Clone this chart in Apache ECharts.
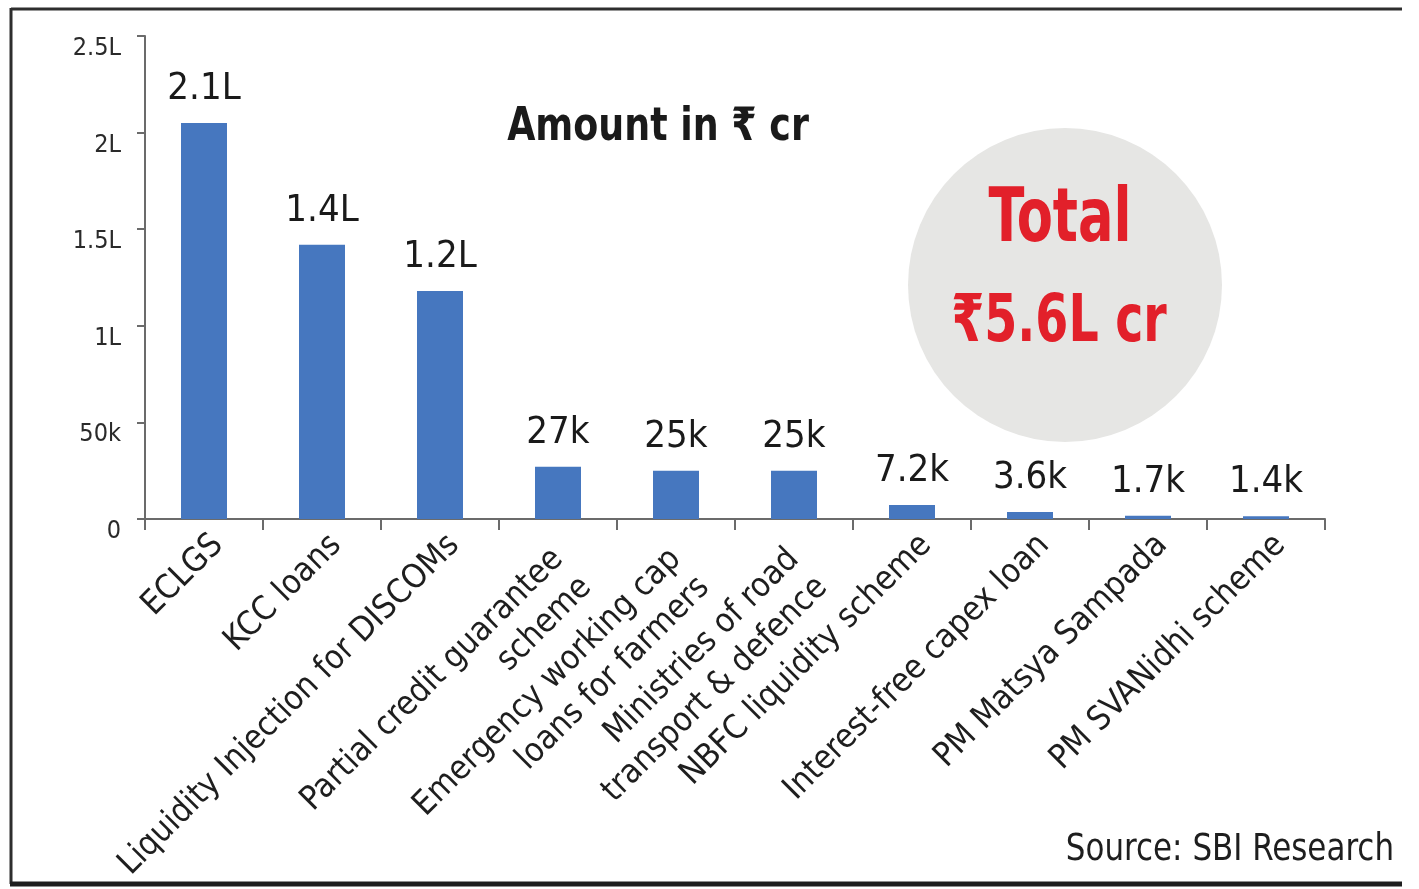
<!DOCTYPE html>
<html>
<head>
<meta charset="utf-8">
<script src="https://cdn.jsdelivr.net/npm/echarts@6/dist/echarts.min.js"></script>
<style>
html,body{margin:0;padding:0;background:#fff;}
#chart{width:1419px;height:889px;}
</style>
</head>
<body>
<div id="chart"></div>
<script>
const categories = [
  'ECLGS',
  'KCC loans',
  'Liquidity Injection for DISCOMs',
  'Partial credit guarantee\nscheme',
  'Emergency working cap\nloans for farmers',
  'Ministries of road\ntransport & defence',
  'NBFC liquidity scheme',
  'Interest-free capex loan',
  'PM Matsya Sampada',
  'PM SVANidhi scheme'
];
const amounts = [205000, 142000, 118000, 27000, 25000, 25000, 7200, 3600, 1700, 1400];
const amountLabels = ['2.1L', '1.4L', '1.2L', '27k', '25k', '25k', '7.2k', '3.6k', '1.7k', '1.4k'];
const yTickValues = [0, 50000, 100000, 150000, 200000, 250000];
const yTickLabels = ['0', '50k', '1L', '1.5L', '2L', '2.5L'];
const titleText = 'Amount in \u20B9 cr';
const totalLine1 = 'Total';
const totalLine2 = '\u20B95.6L cr';
const sourceText = 'Source: SBI Research';

const NARROW = "'DejaVu Sans Condensed', 'Liberation Sans Narrow', sans-serif";

const chart = echarts.init(document.getElementById('chart'), null, {renderer: 'canvas'});
chart.setOption({
  backgroundColor: '#ffffff',
  animation: false,
  grid: {left: 145, right: 94, top: 36, bottom: 370, containLabel: false, outerBoundsMode: 'none'},
  xAxis: {
    type: 'category',
    data: categories,
    boundaryGap: true,
    axisLine: {show: true, lineStyle: {color: '#6b6b6b', width: 2}},
    axisTick: {show: true, length: 11, alignWithLabel: false, lineStyle: {color: '#6b6b6b', width: 2}},
    axisLabel: {
      interval: 0,
      rotate: 45,
      margin: 7,
      verticalAlign: 'top',
      color: '#1e1e1e',
      fontFamily: NARROW,
      fontSize: 33.5,
      lineHeight: 40,
      formatter: function (v) {
        const lines = v.split('\n');
        if (lines.length === 1) return v;
        return lines.map(function (l) { return '{two|' + l + '}'; }).join('\n');
      },
      rich: {
        two: {padding: [0, 20, 0, 0], fontSize: 33.5, lineHeight: 40, fontFamily: NARROW, color: '#1e1e1e'}
      }
    }
  },
  yAxis: {
    type: 'value',
    min: 0,
    max: 250000,
    interval: 50000,
    splitLine: {show: false},
    axisLine: {show: true, lineStyle: {color: '#6b6b6b', width: 2}},
    axisTick: {show: true, length: 8, inside: false, lineStyle: {color: '#6b6b6b', width: 2}},
    axisLabel: {
      margin: 24,
      color: '#2a2a2a',
      fontFamily: NARROW,
      fontSize: 25,
      verticalAlign: 'top',
      formatter: function (v) {
        const i = yTickValues.indexOf(v);
        return i >= 0 ? yTickLabels[i] : '';
      }
    }
  },
  series: [{
    type: 'bar',
    data: amounts,
    barWidth: 46,
    itemStyle: {color: '#4677bf'},
    label: {
      show: true,
      position: 'top',
      distance: 15,
      color: '#1a1a1a',
      fontFamily: NARROW,
      fontSize: 38,
      formatter: function (p) { return amountLabels[p.dataIndex]; }
    }
  }],
  graphic: [
    {type: 'line', shape: {x1: 11, y1: 9, x2: 1402, y2: 9}, style: {stroke: '#2e2e2e', lineWidth: 3}, z: 10},
    {type: 'line', shape: {x1: 11, y1: 8, x2: 11, y2: 884}, style: {stroke: '#2e2e2e', lineWidth: 3}, z: 10},
    {type: 'line', shape: {x1: 10, y1: 884, x2: 1402, y2: 884}, style: {stroke: '#1e1e1e', lineWidth: 5}, z: 10},
    {type: 'circle', shape: {cx: 1065, cy: 285, r: 157}, style: {fill: '#e6e6e4'}, z: 1},
    {type: 'text', x: 1060, y: 222, scaleX: 0.78, style: {text: totalLine1, fill: '#e2202a', font: "bold 75px " + NARROW, textAlign: 'center', textVerticalAlign: 'middle'}, z: 5},
    {type: 'text', x: 1059, y: 324, scaleX: 0.8, style: {text: totalLine2, fill: '#e2202a', font: "bold 66px " + NARROW, textAlign: 'center', textVerticalAlign: 'middle'}, z: 5},
    {type: 'text', x: 658, y: 128, scaleX: 0.88, style: {text: titleText, fill: '#1a1a1a', font: "bold 46px " + NARROW, textAlign: 'center', textVerticalAlign: 'middle'}, z: 5},
    {type: 'text', x: 1394, y: 850, scaleX: 0.93, style: {text: sourceText, fill: '#1e1e1e', font: "37px " + NARROW, textAlign: 'right', textVerticalAlign: 'middle'}, z: 5}
  ]
});
</script>
</body>
</html>
